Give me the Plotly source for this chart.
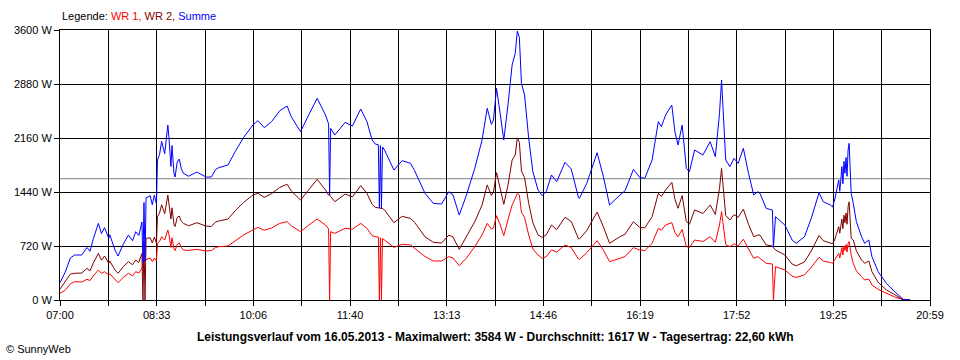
import plotly.graph_objects as go
from datetime import datetime, timedelta

DAY = "2013-05-16"

times = ["07:00","07:05","07:10","07:14","07:21","07:26","07:29","07:32","07:37","07:40",
         "07:43","07:47","07:48","07:53","07:56","08:01","08:06","08:10","08:13","08:16",
         "08:19","08:20","08:21","08:22","08:23","08:27","08:29","08:31","08:33","08:34",
         "08:36","08:38","08:41","08:44","08:45","08:47","08:48","08:50","08:51","08:53",
         "08:55","08:57","08:59","09:04","09:12","09:21","09:26","09:30","09:33","09:42",
         "09:49","09:57","10:06","10:11","10:17","10:24","10:32","10:39","10:43","10:52",
         "10:59","11:08","11:16","11:19","11:20","11:21","11:25","11:35","11:42","11:50",
         "11:56","12:01","12:04","12:07","12:08","12:09","12:10","12:11","12:13","12:22",
         "12:30","12:33","12:38","12:42","12:52","13:00","13:08","13:15","13:19","13:25",
         "13:32","13:40","13:47","13:52","13:56","13:58","14:01","14:04","14:08","14:12",
         "14:16","14:19","14:21","14:23","14:25","14:28","14:32","14:36","14:41","14:45",
         "14:49","14:54","14:59","15:07","15:13","15:20","15:21","15:28","15:38","15:44",
         "15:50","16:00","16:05","16:13","16:19","16:24","16:31","16:37","16:40","16:44",
         "16:50","16:53","16:56","17:00","17:04","17:07","17:12","17:20","17:27","17:32",
         "17:36","17:38","17:40","17:42","17:46","17:50","17:54","17:59","18:04","18:09",
         "18:13","18:15","18:21","18:27","18:28","18:30","18:39","18:46","18:50","18:58",
         "19:05","19:12","19:16","19:23","19:25","19:27","19:31","19:32","19:33","19:34",
         "19:35","19:36","19:37","19:38","19:39","19:40","19:41","19:43","19:45","19:48",
         "19:53","19:56","20:00","20:03","20:09","20:17","20:25","20:30","20:33","20:40"]

wr1 = [89,130,215,244,240,276,260,320,400,356,
       378,333,350,267,231,300,356,320,378,360,
       420,500,520,520,540,560,511,560,520,756,
       780,844,800,933,880,700,830,680,660,740,
       760,700,667,660,676,653,660,700,711,720,
       790,867,933,969,930,960,1022,1044,990,911,
       990,1080,1000,950,0,911,889,956,945,1022,
       956,858,844,840,0,830,0,820,800,702,
       742,742,735,689,580,520,520,578,560,458,
       560,712,867,1022,947,960,1124,1020,858,1070,
       1267,1356,1422,1400,1169,1100,867,680,600,556,
       580,667,640,733,700,547,542,630,791,667,
       511,556,580,698,667,660,756,956,930,1000,
       1031,900,844,940,711,700,800,780,844,770,
       1000,1178,960,740,711,750,720,811,680,556,
       578,556,489,480,0,444,400,320,300,336,
       444,570,520,500,490,533,622,560,640,700,
       600,720,660,740,640,756,780,600,489,390,
       311,267,280,200,142,89,40,18,5,0]

wr2 = [147,240,345,356,360,422,390,490,622,530,
       587,489,520,400,356,444,511,470,533,500,
       620,0,780,0,822,830,760,840,760,1111,
       1160,1270,1150,1400,1300,1080,1230,1000,980,1100,
       1120,1050,1022,990,1030,985,980,1040,1053,1080,
       1190,1300,1400,1422,1369,1418,1502,1543,1454,1333,
       1454,1609,1467,1400,1400,1378,1311,1413,1375,1525,
       1422,1275,1236,1230,1230,1230,1220,1220,1200,1031,
       1116,1102,1087,1035,842,769,760,866,840,675,
       840,1044,1266,1534,1395,1440,1698,1513,1275,1530,
       1866,1933,2162,2100,1720,1633,1289,1031,867,835,
       870,1000,938,1103,1047,817,814,926,1173,977,
       756,844,878,1044,969,962,1111,1422,1381,1467,
       1569,1344,1223,1393,1045,1011,1200,1153,1267,1141,
       1489,1755,1440,1127,1067,1139,1102,1211,1009,844,
       866,866,733,720,700,667,600,480,456,508,
       667,861,791,767,750,800,978,890,960,1078,
       950,1130,1029,1160,1010,1244,1309,822,800,654,
       533,489,520,378,236,133,71,26,5,0]

summe = [231,370,560,600,600,700,650,810,1022,886,
         965,822,870,667,587,744,867,790,911,860,
         1040,500,1300,520,1362,1390,1271,1400,1280,1867,
         1940,2114,1950,2333,2180,1780,2060,1680,1640,1840,
         1880,1750,1689,1650,1706,1638,1640,1740,1764,1800,
         1980,2167,2333,2391,2298,2378,2524,2587,2444,2244,
         2444,2689,2467,2350,1400,2289,2200,2369,2320,2547,
         2378,2133,2080,2070,1230,2060,1220,2040,2000,1733,
         1858,1844,1822,1724,1422,1289,1280,1444,1400,1133,
         1400,1756,2133,2556,2342,2400,2822,2533,2133,2600,
         3133,3289,3584,3500,2889,2733,2156,1711,1467,1391,
         1450,1667,1578,1836,1747,1364,1356,1556,1964,1644,
         1267,1400,1458,1742,1636,1622,1867,2378,2311,2467,
         2600,2244,2067,2333,1756,1711,2000,1933,2111,1911,
         2489,2933,2400,1867,1778,1889,1822,2022,1689,1400,
         1444,1422,1222,1200,700,1111,1000,800,756,844,
         1111,1431,1311,1267,1240,1333,1600,1450,1600,1778,
         1550,1850,1689,1900,1650,2000,2089,1422,1289,1044,
         844,756,800,578,378,222,111,44,10,0]

average_w = 1617
tick_labels = ["07:00", "08:33", "10:06", "11:40", "13:13", "14:46", "16:19", "17:52", "19:25", "20:59"]
y_ticks = [0, 720, 1440, 2160, 2880, 3600]
title_text = "Leistungsverlauf vom 16.05.2013 - Maximalwert: 3584 W - Durchschnitt: 1617 W - Tagesertrag: 22,60 kWh"

x = [f"{DAY} {t}" for t in times]

start = datetime(2013, 5, 16, 7, 0)
end = datetime(2013, 5, 16, 20, 59)
span = (end - start).total_seconds()
n_int = 18
tickvals = [start + timedelta(seconds=span * k / n_int) for k in range(n_int + 1)]
ticktext = []
for k in range(n_int + 1):
    ticktext.append(tick_labels[k // 2] if k % 2 == 0 else "")

FONT = "Liberation Sans, Arial, sans-serif"

fig = go.Figure()
fig.add_trace(go.Scatter(x=x, y=wr1, mode="lines", name="WR 1",
                         line=dict(color="#FF0000", width=1)))
fig.add_trace(go.Scatter(x=x, y=wr2, mode="lines", name="WR 2",
                         line=dict(color="#800000", width=1)))
fig.add_trace(go.Scatter(x=x, y=summe, mode="lines", name="Summe",
                         line=dict(color="#0000FF", width=1)))

fig.add_shape(type="line", xref="paper", x0=0, x1=1, yref="y", y0=average_w, y1=average_w,
              line=dict(color="#808080", width=1), layer="below")

fig.update_layout(
    width=960, height=360,
    margin=dict(l=60, r=30, t=30, b=60),
    paper_bgcolor="white", plot_bgcolor="white",
    showlegend=False,
    font=dict(family=FONT, size=11, color="black"),
    xaxis=dict(
        type="date",
        range=[start, end],
        tickmode="array", tickvals=tickvals, ticktext=ticktext,
        showgrid=True, gridcolor="black", gridwidth=1,
        showline=True, linecolor="black", linewidth=1, mirror=True,
        ticks="outside", ticklen=5, tickcolor="black",
        zeroline=False, fixedrange=True,
        tickfont=dict(family=FONT, size=11, color="black"),
    ),
    yaxis=dict(
        range=[0, 3600],
        tickmode="array", tickvals=y_ticks,
        ticktext=[f"{v} W" for v in y_ticks],
        showgrid=True, gridcolor="black", gridwidth=1,
        showline=True, linecolor="black", linewidth=1, mirror=True,
        ticks="outside", ticklen=5, tickcolor="black",
        zeroline=False, fixedrange=True,
        tickfont=dict(family=FONT, size=11, color="black"),
    ),
    annotations=[
        dict(xref="paper", yref="paper", x=0, y=1, xanchor="left", yanchor="middle",
             yshift=14, showarrow=False,
             text="Legende: <span style='color:#FF0000'>WR 1,</span> "
                  "<span style='color:#800000'>WR 2,</span> "
                  "<span style='color:#0000FF'>Summe</span>",
             font=dict(family=FONT, size=11, color="black")),
        dict(xref="paper", yref="paper", x=0.5, y=0, xanchor="center", yanchor="middle",
             yshift=-37, showarrow=False, text=f"<b>{title_text}</b>",
             font=dict(family=FONT, size=12, color="black")),
        dict(xref="paper", yref="paper", x=-60/870, y=0, xanchor="left", yanchor="middle",
             xshift=4, yshift=-49, showarrow=False, text="© SunnyWeb",
             font=dict(family=FONT, size=11, color="black")),
    ],
)

fig.write_html("out.html", config={"displayModeBar": False},
               post_script="document.body.style.margin='0';")
